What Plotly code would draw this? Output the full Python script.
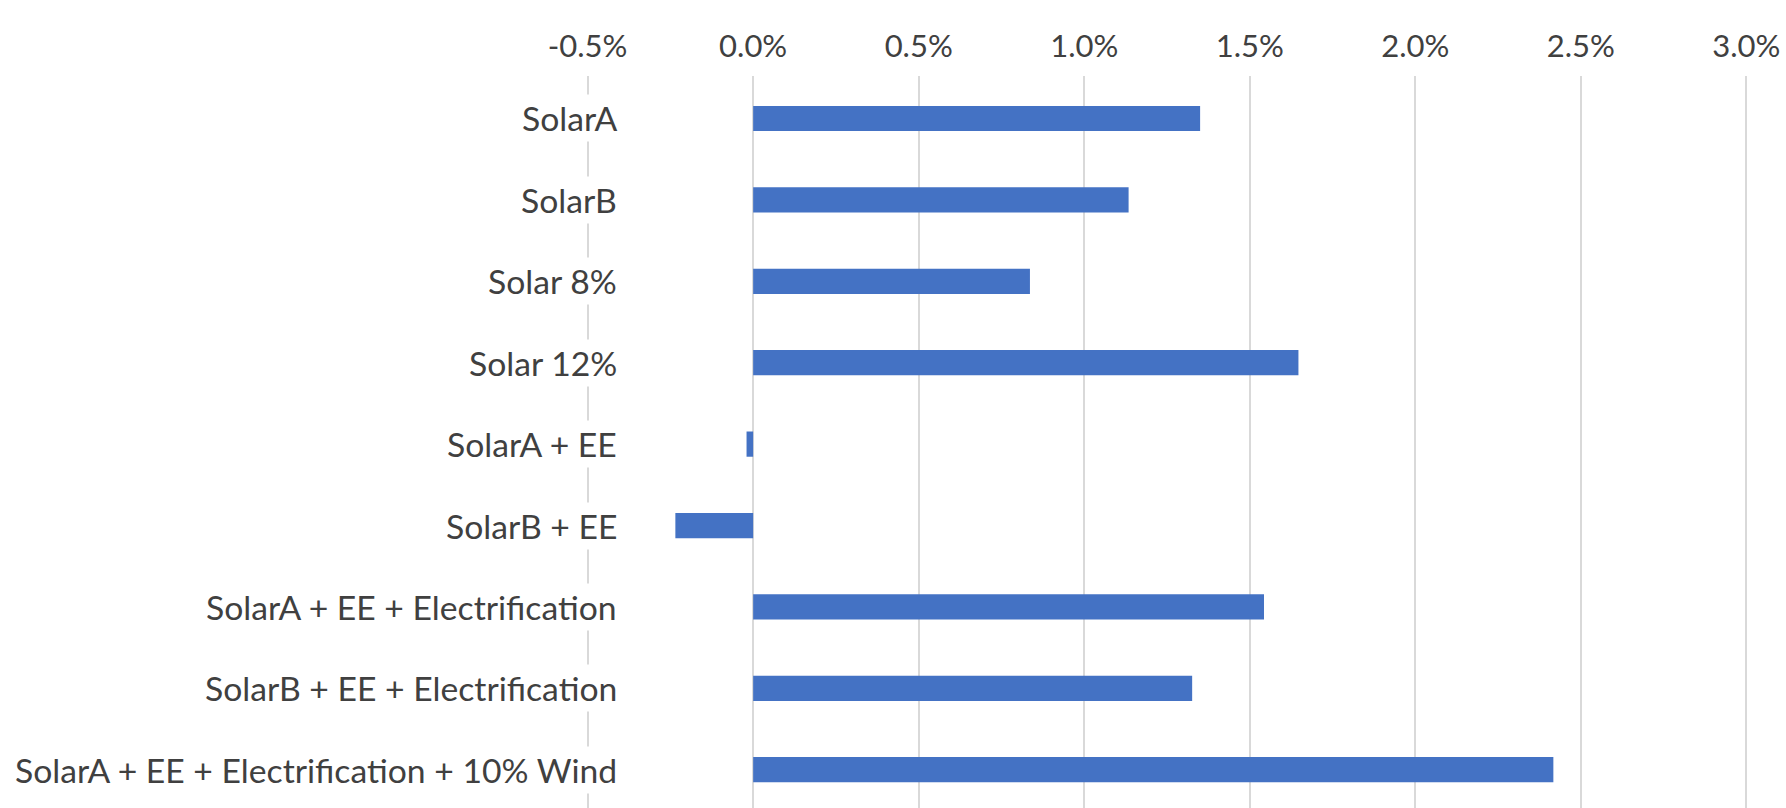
import plotly.graph_objects as go

categories = [
    "SolarA",
    "SolarB",
    "Solar 8%",
    "Solar 12%",
    "SolarA + EE",
    "SolarB + EE",
    "SolarA + EE + Electrification",
    "SolarB + EE + Electrification",
    "SolarA + EE + Electrification + 10% Wind",
]
values = [0.0135, 0.01134, 0.00836, 0.01647, -0.0002, -0.00235, 0.01543, 0.01326, 0.02417]
tick_vals = [-0.005, 0.0, 0.005, 0.01, 0.015, 0.02, 0.025, 0.03]
tick_text = ["-0.5%", "0.0%", "0.5%", "1.0%", "1.5%", "2.0%", "2.5%", "3.0%"]

BAR_COLOR = "#4472C4"
TEXT_COLOR = "#404040"
FONT = "Lato"

fig = go.Figure()
fig.add_trace(go.Bar(
    x=values,
    y=categories,
    orientation="h",
    marker=dict(color=BAR_COLOR, line=dict(width=0)),
    showlegend=False,
))

annotations = []
for c in categories:
    annotations.append(dict(
        x=-0.0040, y=c, xref="x", yref="y",
        text=c, showarrow=False, xanchor="right", yanchor="middle",
        font=dict(family=FONT, size=33.7, color=TEXT_COLOR),
        bgcolor="white", borderpad=3,
    ))

fig.update_layout(
    width=1786, height=808,
    margin=dict(l=581, r=33, t=76, b=0, autoexpand=False),
    paper_bgcolor="white", plot_bgcolor="white",
    bargap=0.69,
    annotations=annotations,
    xaxis=dict(
        side="top",
        automargin=False,
        range=[-0.0052, 0.0302],
        tickvals=tick_vals,
        ticktext=tick_text,
        showgrid=True, gridcolor="#d9d9d9", gridwidth=2,
        zeroline=False, showline=False, ticks="",
        tickfont=dict(family=FONT, size=31, color=TEXT_COLOR),
        ticklabelstandoff=12,
    ),
    yaxis=dict(
        categoryorder="array", categoryarray=categories,
        automargin=False,
        range=[8.47, -0.522],
        showticklabels=False, showgrid=False, zeroline=False, showline=False, ticks="",
    ),
)

fig.write_html(
    "out.html",
    config={"displayModeBar": False},
    post_script="document.body.style.margin='0';document.body.style.overflow='hidden';",
)
